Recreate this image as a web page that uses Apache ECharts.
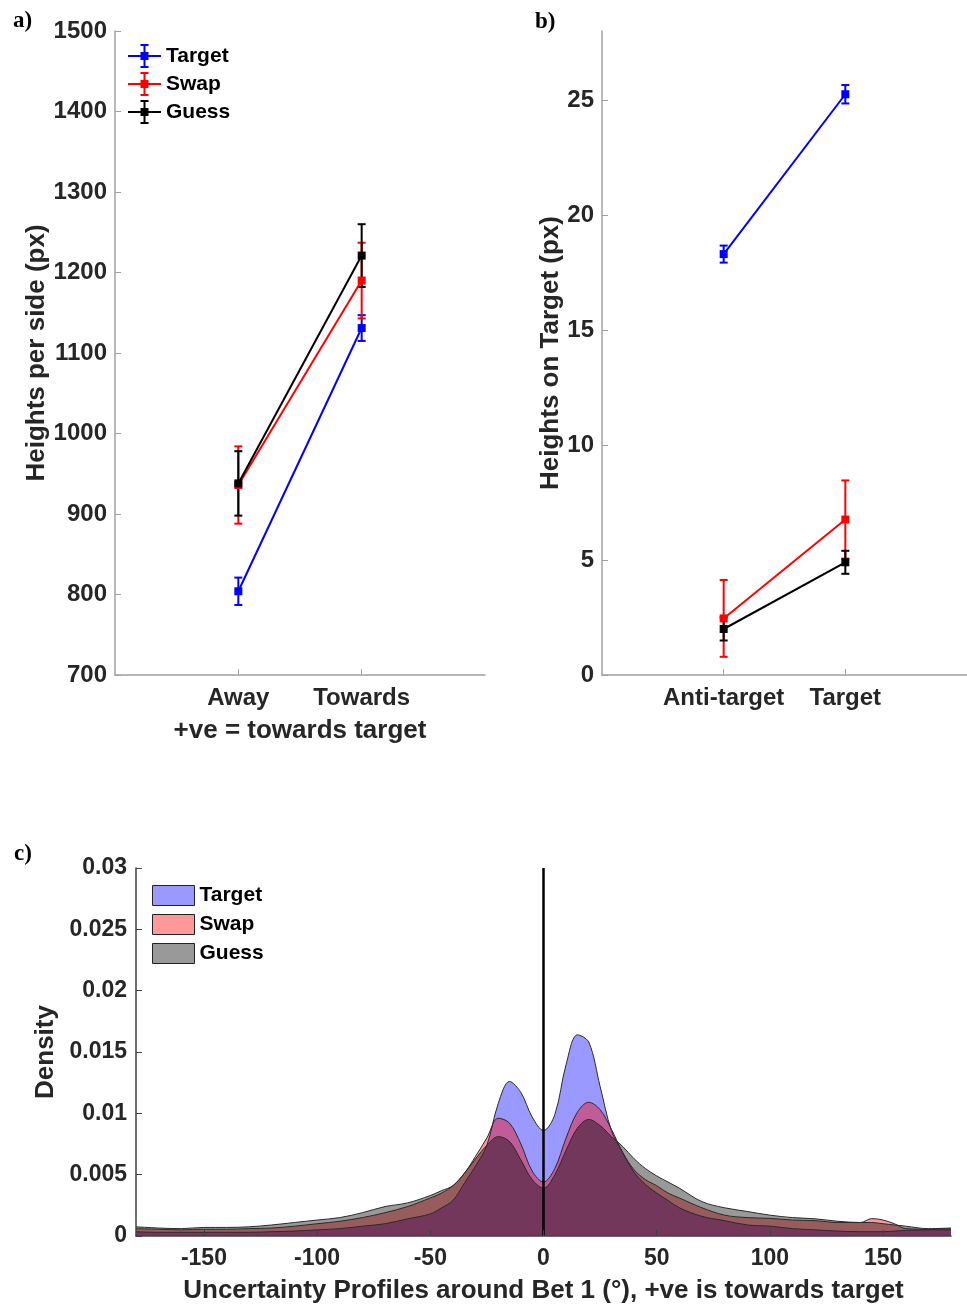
<!DOCTYPE html>
<html>
<head>
<meta charset="utf-8">
<script src="https://cdn.jsdelivr.net/npm/echarts@6/dist/echarts.min.js"></script>
<style>
html, body { margin: 0; padding: 0; background: #fff; }
#chart { width: 967px; height: 1307px; }
</style>
</head>
<body>
<div id="chart"></div>
<script>
// a) heights per side
var sideCats = ['Away', 'Towards']
var sideTarget = [804, 1131]
var sideTargetErr = [17, 16]
var sideSwap = [936, 1190]
var sideSwapErr = [48, 47]
var sideGuess = [938, 1221]
var sideGuessErr = [40, 39]

// b) heights on target
var hotCats = ['Anti-target', 'Target']
var hotTarget = [18.3, 25.25]
var hotTargetErr = [0.37, 0.4]
var hotSwap = [2.46, 6.76]
var hotSwapErr = [1.67, 1.7]
var hotGuess = [2.0, 4.9]
var hotGuessErr = [0.5, 0.5]
var hotTicks = [0, 5, 10, 15, 20, 25]

// c) uncertainty profiles
var densityX = [-180, -170, -160, -150, -140, -130, -120, -110, -100, -90, -80, -70, -60, -50, -45, -40, -35, -30, -25, -20, -15, -10, -5, 0,
  5, 10, 15, 20, 25, 30, 35, 40, 45, 50, 55, 60, 70, 80, 90, 100, 110, 120, 130, 140, 145, 150, 155, 160, 170, 180]
var densityTarget = [0.00035, 0.0003, 0.0003, 0.0003, 0.0003, 0.0003, 0.00035, 0.0004, 0.0005, 0.0006, 0.0008, 0.001, 0.0014, 0.0018, 0.0023, 0.0029, 0.0043, 0.0057, 0.0074, 0.0108, 0.0126, 0.0117, 0.0097, 0.0086,
  0.0099, 0.014, 0.0164, 0.0158, 0.0122, 0.0086, 0.0068, 0.0052, 0.0042, 0.0035, 0.0029, 0.0023, 0.0016, 0.00125, 0.0009, 0.0008, 0.0006, 0.0005, 0.0004, 0.00035, 0.00035, 0.00035, 0.0004, 0.00045, 0.0005, 0.0005]
var densitySwap = [0.0006, 0.00055, 0.0005, 0.00055, 0.00055, 0.0006, 0.00065, 0.0008, 0.001, 0.0012, 0.0015, 0.0019, 0.0024, 0.0031, 0.0035, 0.0041, 0.0051, 0.0065, 0.008, 0.0096, 0.0092, 0.0075, 0.0053, 0.0044,
  0.0055, 0.008, 0.0101, 0.0109, 0.0103, 0.0087, 0.0068, 0.0054, 0.0046, 0.0041, 0.0035, 0.0031, 0.0023, 0.0017, 0.0015, 0.00144, 0.0013, 0.00125, 0.0011, 0.0011, 0.00142, 0.0013, 0.001, 0.0006, 0.00055, 0.0006]
var densityGuess = [0.00075, 0.00065, 0.0006, 0.0007, 0.0007, 0.00075, 0.0009, 0.0011, 0.0013, 0.0015, 0.0019, 0.0024, 0.0027, 0.0033, 0.0037, 0.0041, 0.0051, 0.0063, 0.0074, 0.0081, 0.0077, 0.0062, 0.0046, 0.0039,
  0.005, 0.007, 0.0088, 0.0095, 0.009, 0.0081, 0.0073, 0.0063, 0.0055, 0.0049, 0.0044, 0.0039, 0.0028, 0.0023, 0.002, 0.0017, 0.0015, 0.0014, 0.0012, 0.0011, 0.0011, 0.001, 0.0009, 0.0008, 0.0006, 0.00065]
var densityXTicks = [-150, -100, -50, 0, 50, 100, 150]

var FONT = '"Liberation Sans", Arial, sans-serif'
var TXT = '#262626'

var myChart = echarts.init(document.getElementById('chart'), null, { renderer: 'canvas' })

function pts(vals) {
  return vals.map(function (v, i) { return [i + 1, v] })
}

function ebData(vals, errs) {
  return vals.map(function (v, i) { return [i + 1, v, v - errs[i], v + errs[i]] })
}

function ebRender(color) {
  return function (params, api) {
    var x = api.value(0)
    var lo = api.coord([x, api.value(2)])
    var hi = api.coord([x, api.value(3)])
    var w = 4
    var st = { stroke: color, lineWidth: 2 }
    return {
      type: 'group',
      children: [
        { type: 'line', shape: { x1: lo[0], y1: lo[1], x2: hi[0], y2: hi[1] }, style: st },
        { type: 'line', shape: { x1: lo[0] - w, y1: lo[1], x2: lo[0] + w, y2: lo[1] }, style: st },
        { type: 'line', shape: { x1: hi[0] - w, y1: hi[1], x2: hi[0] + w, y2: hi[1] }, style: st }
      ]
    }
  }
}

// errorbar + line pair for panels a and b
function pair(name, idx, vals, errs, color) {
  return [{
    name: name + '_eb',
    type: 'custom',
    xAxisIndex: idx,
    yAxisIndex: idx,
    data: ebData(vals, errs),
    encode: { x: 0, y: [1, 2, 3] },
    renderItem: ebRender(color),
    silent: true
  }, {
    name: idx === 0 ? name : name + '_b',
    type: 'line',
    xAxisIndex: idx,
    yAxisIndex: idx,
    data: pts(vals),
    symbol: 'rect',
    symbolSize: 8,
    itemStyle: { color: color },
    lineStyle: { color: color, width: 2 },
    silent: true
  }]
}

function areaSeries(name, vals, rgb) {
  return {
    name: name + '_c',
    type: 'line',
    xAxisIndex: 2,
    yAxisIndex: 2,
    data: densityX.map(function (x, i) { return [x, vals[i]] }),
    smooth: 0.35,
    symbol: 'none',
    itemStyle: { color: 'rgb(' + rgb + ')' },
    lineStyle: { color: '#2a2a2a', width: 1 },
    areaStyle: { color: 'rgb(' + rgb + ')', opacity: 0.4 },
    silent: true
  }
}

// legend glyph: line with errorbar and square marker, 33x24
var ebIcon = 'path://M0 11H33V13H0Z M15.5 1H17.5V23H15.5Z M12.5 0H20.5V2H12.5Z M12.5 22H20.5V24H12.5Z M12.5 8H20.5V16H12.5Z'

var tickLabel = { color: TXT, fontFamily: FONT, fontWeight: 'bold', fontSize: 24 }
var nameText = { color: TXT, fontFamily: FONT, fontWeight: 'bold', fontSize: 26 }
var lightAxis = { show: true, onZero: false, lineStyle: { color: '#a0a0a0', width: 1.5 } }
var darkAxis = { show: true, onZero: false, lineStyle: { color: '#404040', width: 1.5 } }

var series = []
  .concat(pair('Target', 0, sideTarget, sideTargetErr, '#0000ff'))
  .concat(pair('Swap', 0, sideSwap, sideSwapErr, '#ff0000'))
  .concat(pair('Guess', 0, sideGuess, sideGuessErr, '#000000'))
  .concat(pair('Target', 1, hotTarget, hotTargetErr, '#0000ff'))
  .concat(pair('Swap', 1, hotSwap, hotSwapErr, '#ff0000'))
  .concat(pair('Guess', 1, hotGuess, hotGuessErr, '#000000'))

var sGuess = areaSeries('Guess', densityGuess, '0,0,0')
sGuess.markLine = {
  silent: true,
  symbol: 'none',
  label: { show: false },
  lineStyle: { color: '#000', width: 2.5, type: 'solid' },
  data: [{ xAxis: 0 }]
}
series.push(areaSeries('Target', densityTarget, '0,0,255'))
series.push(areaSeries('Swap', densitySwap, '255,0,0'))
series.push(sGuess)

var option = {
  animation: false,
  backgroundColor: '#fff',
  grid: [
    { left: 115, top: 31, width: 370, height: 644 },
    { left: 602, top: 31, width: 372, height: 644 },
    { left: 136, top: 868, width: 815, height: 368 }
  ],
  xAxis: [{
    gridIndex: 0, type: 'value', min: 0, max: 3,
    axisLine: lightAxis,
    axisTick: { inside: true, length: 6, customValues: [1, 2], lineStyle: { color: '#a0a0a0' } },
    axisLabel: Object.assign({ margin: 11, customValues: [1, 2], formatter: function (v) { return sideCats[v - 1] || '' } }, tickLabel),
    splitLine: { show: false },
    name: '+ve = towards target', nameLocation: 'middle', nameGap: 43, nameTextStyle: nameText
  }, {
    gridIndex: 1, type: 'value', min: 0, max: 3,
    axisLine: lightAxis,
    axisTick: { inside: true, length: 6, customValues: [1, 2], lineStyle: { color: '#a0a0a0' } },
    axisLabel: Object.assign({ margin: 11, customValues: [1, 2], formatter: function (v) { return hotCats[v - 1] || '' } }, tickLabel),
    splitLine: { show: false }
  }, {
    gridIndex: 2, type: 'value', min: -180, max: 180,
    axisLine: darkAxis,
    axisTick: { inside: true, length: 6, customValues: densityXTicks, lineStyle: { color: '#404040' } },
    axisLabel: Object.assign({ margin: 11, customValues: densityXTicks }, tickLabel, { fontSize: 23 }),
    splitLine: { show: false },
    name: 'Uncertainty Profiles around Bet 1 (°), +ve is towards target', nameLocation: 'middle', nameGap: 42, nameTextStyle: nameText,
    z: 5
  }],
  yAxis: [{
    gridIndex: 0, type: 'value', min: 700, max: 1500, interval: 100,
    axisLine: lightAxis,
    axisTick: { inside: true, length: 6, lineStyle: { color: '#a0a0a0' } },
    axisLabel: Object.assign({ margin: 8, formatter: function (v) { return String(v) } }, tickLabel),
    splitLine: { show: false },
    name: 'Heights per side (px)', nameLocation: 'middle', nameGap: 64, nameTextStyle: nameText
  }, {
    gridIndex: 1, type: 'value', min: 0, max: 28,
    axisLine: lightAxis,
    axisTick: { inside: true, length: 6, customValues: hotTicks, lineStyle: { color: '#a0a0a0' } },
    axisLabel: Object.assign({ margin: 8, customValues: hotTicks }, tickLabel),
    splitLine: { show: false },
    name: 'Heights on Target (px)', nameLocation: 'middle', nameGap: 37, nameTextStyle: nameText
  }, {
    gridIndex: 2, type: 'value', min: 0, max: 0.03, interval: 0.005,
    axisLine: darkAxis,
    axisTick: { inside: true, length: 6, lineStyle: { color: '#404040' } },
    axisLabel: Object.assign({ margin: 9 }, tickLabel, { fontSize: 23 }),
    splitLine: { show: false },
    name: 'Density', nameLocation: 'middle', nameGap: 73, nameTextStyle: nameText,
    z: 5
  }],
  legend: [{
    left: 128, top: 44, orient: 'vertical', padding: 0,
    itemWidth: 33, itemHeight: 24, itemGap: 4,
    selectedMode: false,
    textStyle: { color: '#000', fontFamily: FONT, fontWeight: 'bold', fontSize: 21 },
    data: [
      { name: 'Target', icon: ebIcon },
      { name: 'Swap', icon: ebIcon },
      { name: 'Guess', icon: ebIcon }
    ]
  }, {
    left: 152, top: 885, orient: 'vertical', padding: 0,
    itemWidth: 42, itemHeight: 20, itemGap: 8,
    selectedMode: false,
    formatter: function (n) { return n.replace('_c', '') },
    textStyle: { color: '#000', fontFamily: FONT, fontWeight: 'bold', fontSize: 21 },
    data: [
      { name: 'Target_c', icon: 'rect', itemStyle: { color: '#9999ff', borderColor: '#222', borderWidth: 1, opacity: 1 } },
      { name: 'Swap_c', icon: 'rect', itemStyle: { color: '#ff9999', borderColor: '#222', borderWidth: 1, opacity: 1 } },
      { name: 'Guess_c', icon: 'rect', itemStyle: { color: '#999999', borderColor: '#222', borderWidth: 1, opacity: 1 } }
    ]
  }],
  graphic: [
    { type: 'text', left: 13, top: 10, style: { text: 'a)', font: 'bold 23px "Liberation Serif", serif', fill: '#000' } },
    { type: 'text', left: 535, top: 11, style: { text: 'b)', font: 'bold 23px "Liberation Serif", serif', fill: '#000' } },
    { type: 'text', left: 14, top: 843, style: { text: 'c)', font: 'bold 23px "Liberation Serif", serif', fill: '#000' } }
  ],
  series: series
}

myChart.setOption(option)
</script>
</body>
</html>
